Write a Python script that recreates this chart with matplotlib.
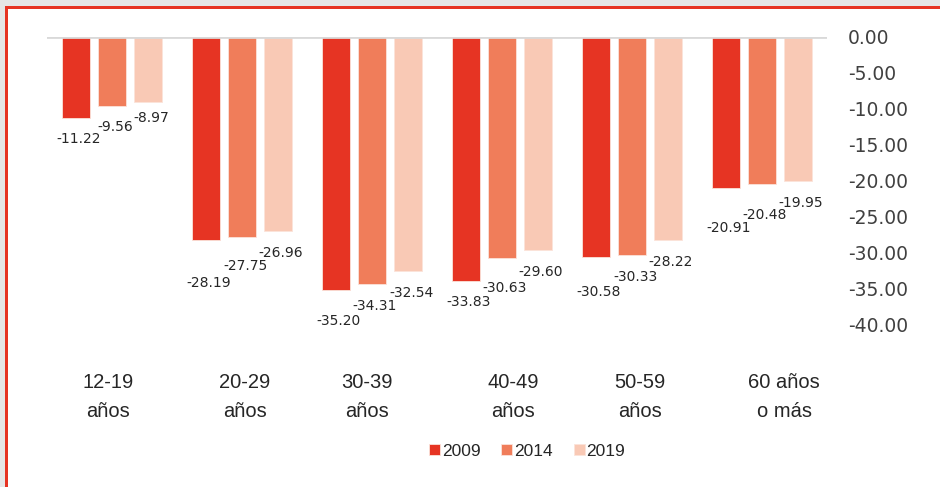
import matplotlib
matplotlib.use("Agg")
import matplotlib.pyplot as plt
from matplotlib.patches import Rectangle
from matplotlib.transforms import blended_transform_factory
import numpy as np

# data
age_groups = ['12-19\naños', '20-29\naños', '30-39\naños', '40-49\naños', '50-59\naños', '60 años\no más']
years = ['2009', '2014', '2019']
values_2009 = [-11.22, -28.19, -35.20, -33.83, -30.58, -20.91]
values_2014 = [-9.56, -27.75, -34.31, -30.63, -30.33, -20.48]
values_2019 = [-8.97, -26.96, -32.54, -29.60, -28.22, -19.95]
y_ticks = [0, -5, -10, -15, -20, -25, -30, -35, -40]

colors = ['#E63423', '#F07D5A', '#F9C9B5']

# layout tweaks (pixels below bar end for each value label, per series)
label_drop = [[21, 43, 31, 21, 35, 40],
              [21, 29, 22, 30, 22, 31],
              [16, 22, 22, 22, 22, 22]]
cat_shift = [-0.03, 0.02, -0.04, 0.085, 0.06, 0.17]

W, H = 940, 487
fig = plt.figure(figsize=(W / 100, H / 100), dpi=100)
fig.patch.set_facecolor('white')

# screenshot frame: grey margin + red border on top/left
fig.add_artist(Rectangle((0, 1 - 6 / H), 1, 6 / H, transform=fig.transFigure, color='#e6e6e6', lw=0))
fig.add_artist(Rectangle((0, 0), 5 / W, 1, transform=fig.transFigure, color='#e6e6e6', lw=0))
fig.add_artist(Rectangle((5 / W, 1 - 9 / H), 1, 2.5 / H, transform=fig.transFigure, color='#E63423', lw=0))
fig.add_artist(Rectangle((5 / W, 0), 2.5 / W, 1 - 7 / H, transform=fig.transFigure, color='#E63423', lw=0))

ax = fig.add_axes([47 / W, 1 - 325 / H, 780 / W, 288 / H])

x = np.arange(len(age_groups))
width = 0.215
step = 0.277
series = [values_2009, values_2014, values_2019]
for i, (vals, year, col) in enumerate(zip(series, years, colors)):
    xs = x + (i - 1) * step
    ax.bar(xs, vals, width=width, color=col, label=year, edgecolor='#fbe3da', linewidth=0.6, zorder=2)
    for j, v in enumerate(vals):
        ax.annotate(f'{v:.2f}', xy=(xs[j], v), xytext=(3, -label_drop[i][j]),
                    textcoords='offset pixels', ha='center', va='center',
                    fontsize=10, color='#262626')

ax.axhline(0, color='#d9d9d9', lw=2, zorder=3)
ax.set_xlim(-0.5, len(age_groups) - 0.5)
ax.set_ylim(-40, 0)
ax.set_yticks(y_ticks)
ax.set_yticklabels([f'{t:.2f}' for t in y_ticks])
ax.yaxis.tick_right()
ax.tick_params(axis='y', length=0, pad=15, labelsize=13.5, labelcolor='#404040')
for lab in ax.get_yticklabels():
    lab.set_horizontalalignment('left')
ax.set_xticks([])
for s in ax.spines.values():
    s.set_visible(False)

trans = blended_transform_factory(ax.transData, ax.transAxes)
for j, lab in enumerate(age_groups):
    ax.text(x[j] + cat_shift[j], -72 / 288, lab, transform=trans, ha='center', va='center',
            fontsize=14.5, family='Liberation Sans', color='#262626', linespacing=1.65)

fig.legend(loc='center', bbox_to_anchor=(527 / W, 1 - 451 / H), ncol=3, frameon=False,
           prop={'family': 'Liberation Sans', 'size': 12.5}, handlelength=0.65, handleheight=0.65,
           handletextpad=0.1, columnspacing=1.2, labelcolor='#262626')

fig.savefig('out.png', dpi=100)
